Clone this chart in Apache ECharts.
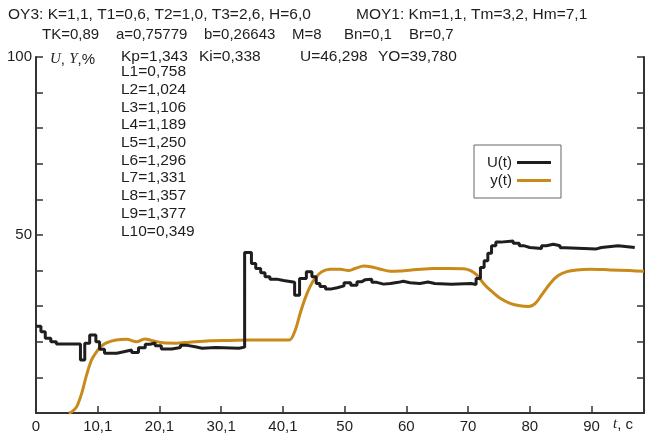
<!DOCTYPE html>
<html>
<head>
<meta charset="utf-8">
<script src="https://cdn.jsdelivr.net/npm/echarts@6/dist/echarts.min.js"></script>
<style>
  html, body { margin: 0; padding: 0; background: #fff; }
  #chart { width: 647px; height: 435px; }
</style>
</head>
<body>
<div id="chart"></div>
<script>
// --- data ---
// U(t): piecewise constant controller output, value holds until next time
const uTime = [0, 0.8, 1.5, 2.4, 3.3, 7.2, 7.9, 8.7, 9.7, 10.3, 11.1, 13.1, 14.2, 15.5, 16.6, 17.7, 18.5, 19.3, 20.3, 22.0,
  23.4, 24.5, 25.8, 26.9, 29.1, 32.9, 33.8, 34.9, 35.6, 36.4, 37.1, 37.9, 39.0, 40.1, 41.9, 42.7, 43.8, 44.7, 45.4, 46.0,
  46.9, 47.7, 48.8, 49.9, 51.0, 52.0, 52.8, 53.3, 54.4, 55.2, 56.3, 57.4, 58.7, 59.5, 60.6, 62.2, 63.5, 64.6, 67.3, 70.5,
  71.3, 72.0, 72.6, 73.2, 73.8, 74.5, 75.3, 77.3, 78.3, 79.0, 80.0, 81.9, 82.7, 83.8, 84.9, 85.7, 90.8, 91.6, 94.3, 97.0]
const uValue = [24.4, 22.8, 21.0, 20.0, 19.4, 14.9, 19.6, 21.9, 20.0, 17.9, 16.8, 17.2, 17.7, 17.0, 18.3, 19.3, 19.7, 18.9, 18.0, 18.4,
  19.0, 18.6, 18.2, 18.4, 18.2, 18.5, 45.1, 42.0, 40.6, 39.4, 38.3, 37.6, 37.2, 36.7, 33.1, 37.8, 39.7, 38.3, 36.4, 35.5,
  34.8, 35.2, 35.7, 36.6, 35.9, 36.9, 37.4, 37.6, 36.7, 36.2, 36.4, 36.7, 37.0, 36.6, 36.4, 36.8, 36.4, 36.2, 36.4, 36.1,
  37.8, 40.9, 42.8, 44.9, 47.0, 48.0, 48.3, 47.7, 47.0, 46.5, 46.2, 47.0, 47.4, 47.0, 46.4, 46.1, 46.5, 47.0, 46.5, 46.5]

// y(t): plant output
const yTime = [5.3, 5.8, 6.6, 7.4, 8.2, 9.0, 9.8, 10.6, 11.4, 13.0, 14.7, 16.3, 17.6, 18.9, 20.6, 22.7, 24.9, 28.1, 31.4, 34.6,
  41.0, 42.0, 42.8, 43.6, 44.4, 45.2, 46.3, 47.7, 49.3, 50.6, 51.7, 53.1, 54.2, 55.8, 57.4, 59.0, 61.7, 64.4, 67.1, 69.3,
  70.4, 71.4, 72.5, 73.6, 75.2, 76.8, 78.4, 79.8, 80.9, 81.9, 83.3, 84.6, 86.0, 87.6, 89.8, 93.0, 96.2, 98.5]
const yValue = [0, 0.3, 1.8, 5.5, 10.7, 14.9, 17.2, 18.8, 19.7, 20.5, 20.7, 20.0, 20.8, 20.3, 19.7, 19.6, 19.9, 20.3, 20.4, 20.5,
  20.5, 23.3, 28.0, 32.2, 35.5, 37.8, 39.7, 40.4, 40.4, 40.0, 40.6, 41.3, 41.1, 40.4, 39.8, 39.9, 40.3, 40.6, 40.6, 40.5,
  40.0, 38.8, 36.4, 34.5, 32.2, 30.8, 30.1, 29.9, 30.8, 33.1, 36.4, 38.6, 39.7, 40.2, 40.4, 40.2, 40.0, 39.8]

const xTickLabels = { 0: '0', 10: '10,1', 20: '20,1', 30: '30,1', 40: '40,1', 50: '50', 60: '60', 70: '70', 80: '80', 90: '90' }
const yTickLabels = { 50: '50', 100: '100' }

const headerLine1 = ['OY3: K=1,1, T1=0,6, T2=1,0, T3=2,6, H=6,0', 'MOY1: Km=1,1, Tm=3,2, Hm=7,1']
const headerLine2 = ['TK=0,89', 'a=0,75779', 'b=0,26643', 'M=8', 'Bn=0,1', 'Br=0,7']
const headerLine3 = ['Kp=1,343', 'Ki=0,338', 'U=46,298', 'YO=39,780']
const lValues = ['L1=0,758', 'L2=1,024', 'L3=1,106', 'L4=1,189', 'L5=1,250', 'L6=1,296', 'L7=1,331', 'L8=1,357', 'L9=1,377', 'L10=0,349']

const FONT = '"Liberation Sans", Arial, sans-serif'
const INK = '#1f1d1e'
const GOLD = '#c98a1a'

function zip (a, b) {
    return a.map(function (v, i) { return [v, b[i]] })
}

// text blocks above / inside the plot
let graphic = []
function addText (str, x, y, size) {
    graphic.push({
        type: 'text', left: x, top: y, silent: true,
        style: { text: str, font: (size || 15) + 'px ' + FONT, fill: INK }
    })
}
const line1X = [8, 356]
headerLine1.forEach(function (s, i) { addText(s, line1X[i], 7, 15.5) })
const line2X = [42, 116, 204, 292, 344, 409]
headerLine2.forEach(function (s, i) { addText(s, line2X[i], 27, 15) })
const line3X = [121, 199, 300, 378]
headerLine3.forEach(function (s, i) { addText(s, line3X[i], 49, 15.5) })
lValues.forEach(function (s, i) { addText(s, 121, 64 + i * 17.7, 15.5) })

// axis names with italic letters
graphic.push({
    type: 'text', left: 50, top: 52, silent: true,
    style: {
        text: '{i|U}, {i|Y},%',
        font: '15px ' + FONT, fill: INK,
        rich: { i: { fontFamily: '"Liberation Serif", serif', fontStyle: 'italic', fontSize: 15 } }
    }
})
graphic.push({
    type: 'text', left: 613, top: 417, silent: true,
    style: {
        text: '{i|t}, c',
        font: '15px ' + FONT, fill: INK,
        rich: { i: { fontFamily: '"Liberation Serif", serif', fontStyle: 'italic', fontSize: 15 } }
    }
})

const axisLine = { show: true, lineStyle: { color: '#333', width: 2 } }
const axisTick = { show: true, inside: true, length: 7, lineStyle: { color: '#333', width: 1.5 } }

const option = {
    animation: false,
    backgroundColor: '#fff',
    textStyle: { fontFamily: FONT },
    grid: { left: 36, right: 3, top: 57, bottom: 22, containLabel: false },
    legend: {
        orient: 'vertical',
        left: 474, top: 145,
        align: 'right',
        padding: [10, 10, 10, 13],
        itemGap: 3,
        itemWidth: 34,
        itemHeight: 3,
        icon: 'rect',
        borderColor: '#666',
        borderWidth: 1,
        textStyle: { fontSize: 15, color: INK, fontFamily: FONT, width: 35 },
        data: ['U(t)', 'y(t)']
    },
    graphic: graphic,
    xAxis: {
        type: 'value',
        min: 0, max: 98.5, interval: 10,
        axisLine: axisLine,
        axisTick: axisTick,
        splitLine: { show: false },
        axisLabel: {
            color: INK, fontSize: 15, margin: 6,
            showMaxLabel: false,
            formatter: function (v) { return xTickLabels[v] !== undefined ? xTickLabels[v] : '' }
        }
    },
    yAxis: [
        {
            type: 'value',
            min: 0, max: 100, interval: 10,
            axisLine: axisLine,
            axisTick: axisTick,
            splitLine: { show: false },
            axisLabel: {
                color: INK, fontSize: 15, margin: 4,
                padding: [6, 0, 0, 0],
                formatter: function (v) { return yTickLabels[v] || '' }
            }
        },
        {
            type: 'value', position: 'right',
            min: 0, max: 100, interval: 10,
            axisLine: axisLine,
            axisTick: axisTick,
            splitLine: { show: false },
            axisLabel: { show: false }
        }
    ],
    series: [
        {
            name: 'U(t)',
            type: 'line',
            step: 'end',
            data: zip(uTime, uValue),
            symbol: 'none',
            color: INK,
            lineStyle: { color: INK, width: 3 },
            z: 3
        },
        {
            name: 'y(t)',
            type: 'line',
            data: zip(yTime, yValue),
            smooth: 0.3,
            symbol: 'none',
            color: GOLD,
            lineStyle: { color: GOLD, width: 3 },
            z: 2
        }
    ]
}

const myChart = echarts.init(document.getElementById('chart'), null, { renderer: 'canvas' })
option && myChart.setOption(option)
</script>
</body>
</html>
